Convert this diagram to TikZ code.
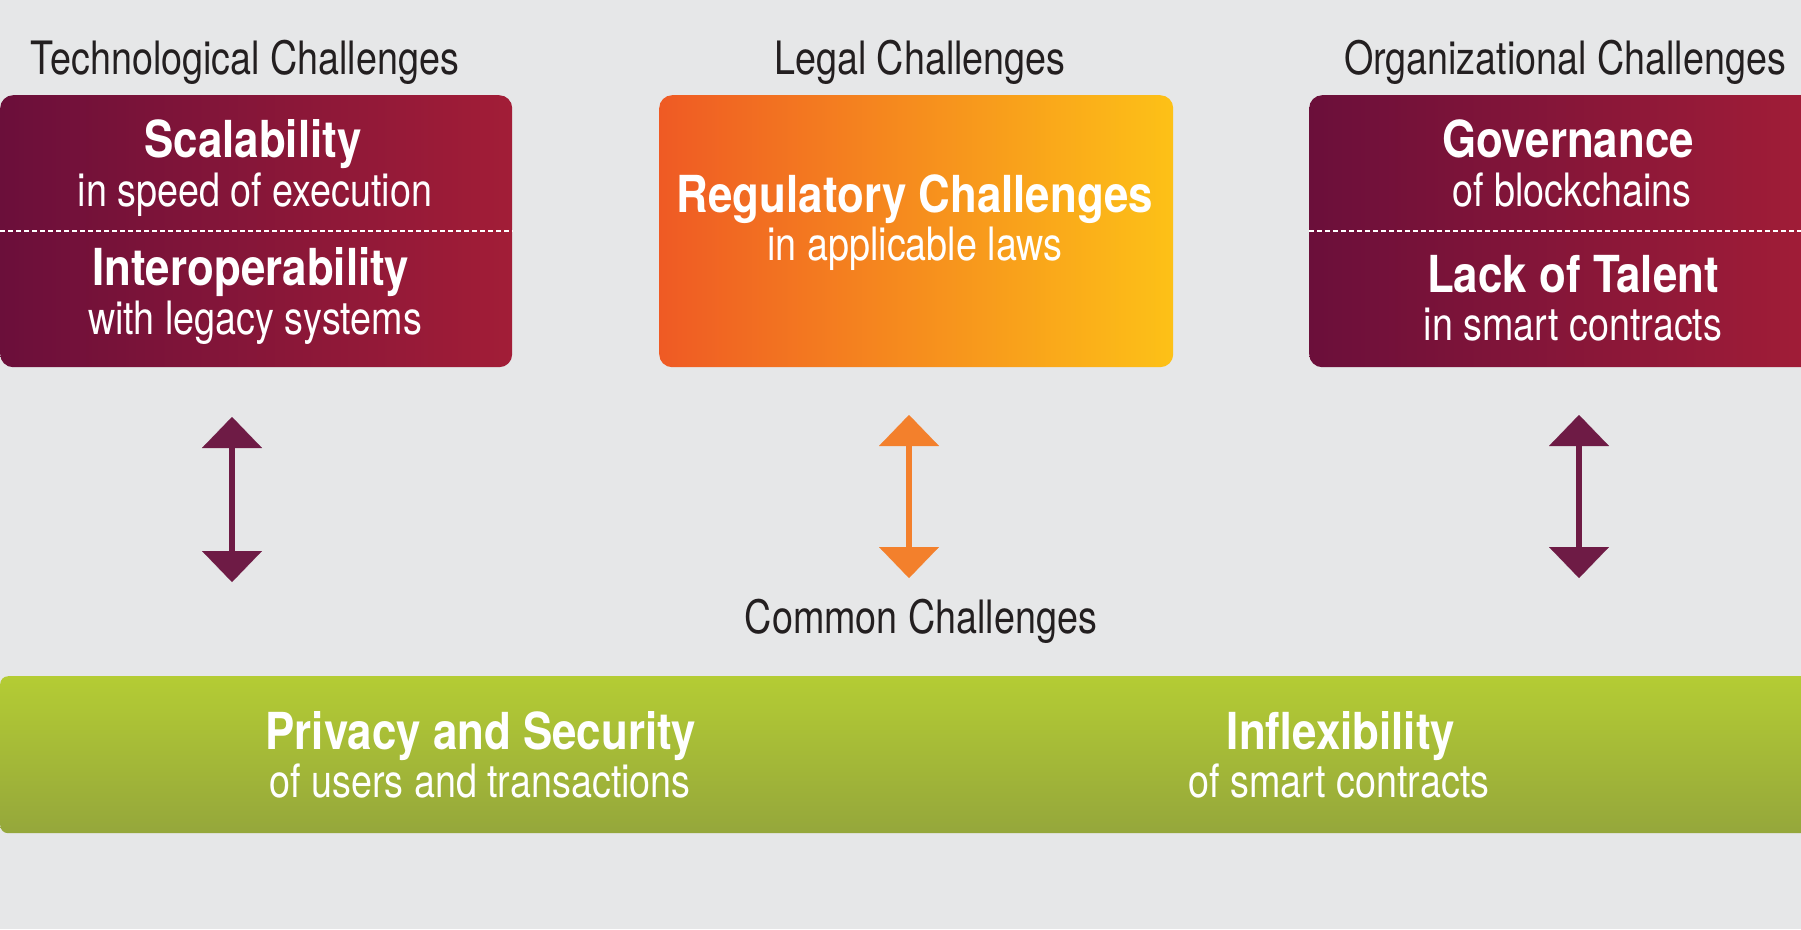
\documentclass[tikz,border=0pt]{standalone}
\usepackage{fontspec}
\setmainfont{TeX Gyre Heros}[FakeStretch=0.82, BoldFeatures={FakeStretch=0.86}]
\usepackage{xcolor}
\usepackage{tikz}
\usetikzlibrary{arrows.meta}

\definecolor{bggray}{HTML}{E6E7E8}
\definecolor{plumL}{HTML}{6B0F3A}
\definecolor{plumR}{HTML}{A21D37}
\definecolor{orangeL}{HTML}{EF5A24}
\definecolor{orangeR}{HTML}{FDC117}
\definecolor{greenT}{HTML}{B4CC34}
\definecolor{greenB}{HTML}{95A73B}
\definecolor{plumarrow}{HTML}{6E1B45}
\definecolor{orangearrow}{HTML}{F3802C}
\definecolor{titlegray}{HTML}{231F20}

\tikzset{
  box/.style={rounded corners=13pt, minimum height=272pt, minimum width=512pt, anchor=north west, inner sep=0pt},
  plumbox/.style={box, left color=plumL, right color=plumR},
  orangebox/.style={box, minimum width=514pt, left color=orangeL, right color=orangeR},
  greenbar/.style={rounded corners=8pt, minimum height=157pt, minimum width=1830pt, anchor=north west, inner sep=0pt, top color=greenT, bottom color=greenB},
  title/.style={anchor=base, text=titlegray, font=\fontsize{46}{50}\selectfont},
  head/.style={anchor=base, text=white, font=\bfseries\fontsize{51}{55}\selectfont},
  sub/.style={anchor=base, text=white, font=\fontsize{46}{50}\selectfont},
  divider/.style={white, dash pattern=on 5pt off 3pt, line width=1.5pt},
  updown/.style={line width=5.5pt, {Triangle[width=60pt,length=31pt,line width=0.1pt]}-{Triangle[width=60pt,length=31pt,line width=0.1pt]}},
}

\begin{document}
\begin{tikzpicture}[x=1pt, y=-1pt]
        \clip (0,0) rectangle (1801,929);
        \fill[bggray] (0,0) rectangle (1801,929);

        \node[title] (techtitle) at (245,74) {Technological Challenges};
        \node[title] (legaltitle) at (920,74) {Legal Challenges};
        \node[title] (orgtitle) at (1565,74) {Organizational Challenges};

        \node[plumbox] (tech) at (0,95) {};
        \node[orangebox] (legal) at (659,95) {};
        \node[plumbox] (org) at (1309,95) {};
        \draw[divider] (tech.west) -- (tech.east);
        \draw[divider] (org.west) -- (org.east);

        \node[head] (scal) at (253,157) {Scalability};
        \node[sub] (scalsub) at (255,206) {in speed of execution};
        \node[head] (interop) at (251,285) {Interoperability};
        \node[sub] (interopsub) at (255,334) {with legacy systems};

        \node[head] (reg) at (915,212) {Regulatory Challenges};
        \node[sub] (regsub) at (915,260) {in applicable laws};

        \node[head] (gov) at (1568,157) {Governance};
        \node[sub] (govsub) at (1572,206) {of blockchains};
        \node[head] (talent) at (1573,292) {Lack of Talent};
        \node[sub] (talentsub) at (1573,340) {in smart contracts};

        \coordinate (techup) at (232,417);
        \coordinate (techdown) at (232,582);
        \coordinate (legalup) at (909,415);
        \coordinate (legaldown) at (909,578);
        \coordinate (orgup) at (1579,415);
        \coordinate (orgdown) at (1579,578);
        \draw[updown, plumarrow] (techup) -- (techdown);
        \draw[updown, orangearrow] (legalup) -- (legaldown);
        \draw[updown, plumarrow] (orgup) -- (orgdown);

        \node[title] (commontitle) at (921,633) {Common Challenges};
        \node[greenbar] (common) at (0,676) {};

        \node[head] (privacy) at (481,749) {Privacy and Security};
        \node[sub] (privacysub) at (480,797) {of users and transactions};
        \node[head] (inflex) at (1341,749) {Inflexibility};
        \node[sub] (inflexsub) at (1339,797) {of smart contracts};
    \end{tikzpicture}
\end{document}
